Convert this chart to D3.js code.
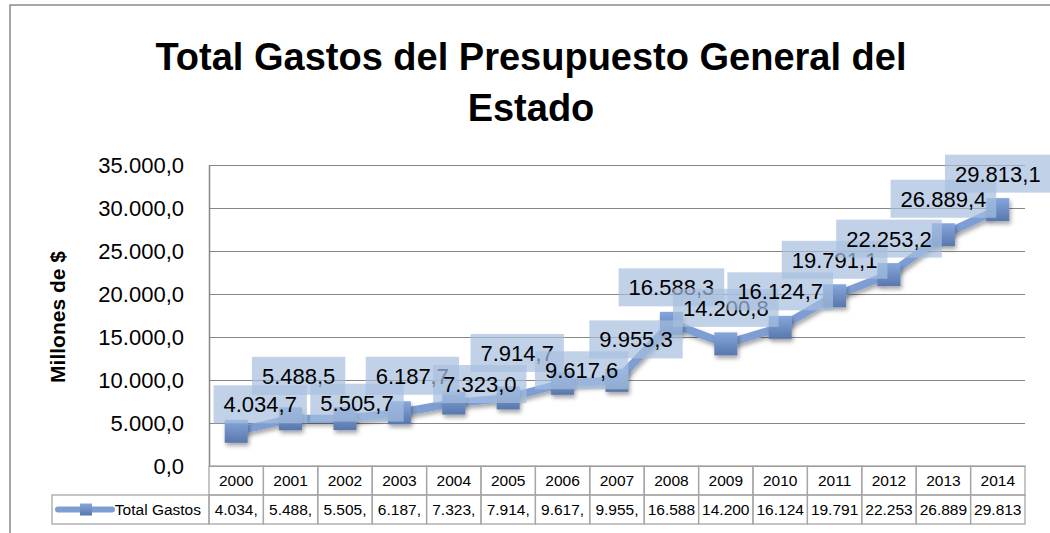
<!DOCTYPE html>
<html>
<head>
<meta charset="utf-8">
<script src="https://cdn.jsdelivr.net/npm/d3@7"></script>
<style>
  html, body { margin: 0; padding: 0; background: #fff; }
  svg { display: block; font-family: "Liberation Sans", Arial, sans-serif; }
</style>
</head>
<body>
<svg id="chart" width="1050" height="533"></svg>
<script>
// chart values
var years = ["2000", "2001", "2002", "2003", "2004", "2005", "2006", "2007",
             "2008", "2009", "2010", "2011", "2012", "2013", "2014"];
var totalGastos = [4034.7, 5488.5, 5505.7, 6187.7, 7323.0, 7914.7, 9617.6, 9955.3,
                   16588.3, 14200.8, 16124.7, 19791.1, 22253.2, 26889.4, 29813.1];
var yTicks = [0, 5000, 10000, 15000, 20000, 25000, 30000, 35000];
var seriesName = "Total Gastos";

// where Excel put each data label, relative to its point (dx, dy of text centre)
var labelNudge = [[24, -27], [8, -43], [12, -16], [13, -37], [26, -19], [9, -45], [19, -13], [19, -41],
                  [0, -36], [0, -36], [0, -36], [0, -36], [0, -36], [0, -36], [0, -36]];

var es = d3.formatLocale({ decimal: ",", thousands: ".", grouping: [3], currency: ["$", ""] });
var fmt = es.format(",.1f");

var svg = d3.select("#chart");
var plot = { left: 209, right: 1025, top: 165, bottom: 466 };
var rowH = 29;
var lineColor = "#7e9ed3";

var x = d3.scaleBand().domain(years).range([plot.left, plot.right]).padding(0);
var y = d3.scaleLinear().domain([0, 35000]).range([plot.bottom, plot.top]);

// defs: marker gradient + shadow
var defs = svg.append("defs");
var grad = defs.append("linearGradient").attr("id", "mk").attr("x1", 0).attr("y1", 0).attr("x2", 0).attr("y2", 1);
grad.append("stop").attr("offset", "0%").attr("stop-color", "#86a7dc");
grad.append("stop").attr("offset", "100%").attr("stop-color", "#5877ad");
var sh = defs.append("filter").attr("id", "shadow").attr("x", "-50%").attr("y", "-50%").attr("width", "200%").attr("height", "200%");
sh.append("feDropShadow").attr("dx", 1.5).attr("dy", 3).attr("stdDeviation", 2)
  .attr("flood-color", "#000").attr("flood-opacity", 0.35);

// outer chart border
svg.append("rect")
  .attr("x", 10).attr("y", 5).attr("width", 1100).attr("height", 600)
  .attr("fill", "none").attr("stroke", "#8a8a8a").attr("stroke-width", 1.5);

// title
var title = svg.append("text")
  .attr("text-anchor", "middle")
  .attr("font-weight", "bold")
  .attr("font-size", 38)
  .attr("fill", "#000");
title.append("tspan").attr("x", 531).attr("y", 70).text("Total Gastos del Presupuesto General del");
title.append("tspan").attr("x", 531).attr("y", 121).text("Estado");

// y axis title
svg.append("text")
  .attr("transform", "translate(65,317) rotate(-90)")
  .attr("text-anchor", "middle")
  .attr("font-weight", "bold")
  .attr("font-size", 21)
  .text("Millones de $");

// gridlines
svg.append("g")
  .attr("transform", "translate(" + plot.left + ",0)")
  .call(d3.axisLeft(y).tickValues(yTicks).tickSize(-(plot.right - plot.left)).tickFormat(""))
  .call(function (g) {
    g.select(".domain").remove();
    g.selectAll(".tick line").attr("stroke", "#868686").attr("stroke-width", 1.2);
  });

// y axis labels
svg.append("g")
  .attr("transform", "translate(" + plot.left + ",0)")
  .call(d3.axisLeft(y).tickValues(yTicks).tickSize(0).tickPadding(25).tickFormat(fmt))
  .call(function (g) {
    g.select(".domain").attr("stroke", "#868686").attr("stroke-width", 1.5);
    g.selectAll(".tick text").attr("font-size", 22).attr("fill", "#000")
      .attr("font-family", "'Liberation Sans', Arial, sans-serif");
  });

// data table under the axis
var table = svg.append("g").attr("class", "datatable");
var border = "#a6a6a6";
table.selectAll("rect.hdr")
  .data(years)
  .enter().append("rect")
  .attr("class", "hdr")
  .attr("x", function (d) { return x(d); })
  .attr("y", plot.bottom)
  .attr("width", x.bandwidth())
  .attr("height", rowH)
  .attr("fill", "none").attr("stroke", border).attr("stroke-width", 1.3);
table.selectAll("text.hdr")
  .data(years)
  .enter().append("text")
  .attr("class", "hdr")
  .attr("x", function (d) { return x(d) + x.bandwidth() / 2; })
  .attr("y", plot.bottom + rowH / 2 + 5.5)
  .attr("text-anchor", "middle")
  .attr("font-size", 15.5)
  .text(function (d) { return d; });

table.selectAll("rect.val")
  .data(years)
  .enter().append("rect")
  .attr("class", "val")
  .attr("x", function (d) { return x(d); })
  .attr("y", plot.bottom + rowH)
  .attr("width", x.bandwidth())
  .attr("height", rowH)
  .attr("fill", "none").attr("stroke", border).attr("stroke-width", 1.3);
table.selectAll("text.val")
  .data(totalGastos)
  .enter().append("text")
  .attr("class", "val")
  .attr("x", function (d, i) { return x(years[i]) + x.bandwidth() / 2; })
  .attr("y", plot.bottom + rowH * 1.5 + 5.5)
  .attr("text-anchor", "middle")
  .attr("font-size", 15.5)
  .text(function (d) { return fmt(d).slice(0, 6); }); // cell too narrow, Excel clips it

// legend cell
table.append("rect")
  .attr("x", 52).attr("y", plot.bottom + rowH)
  .attr("width", plot.left - 52).attr("height", rowH)
  .attr("fill", "none").attr("stroke", border).attr("stroke-width", 1.3);
table.append("line")
  .attr("x1", 58).attr("x2", 112)
  .attr("y1", plot.bottom + rowH * 1.5).attr("y2", plot.bottom + rowH * 1.5)
  .attr("stroke", lineColor).attr("stroke-width", 6).attr("stroke-linecap", "round");
table.append("rect")
  .attr("x", 80).attr("y", plot.bottom + rowH * 1.5 - 6)
  .attr("width", 12).attr("height", 12)
  .attr("fill", "url(#mk)");
table.append("text")
  .attr("x", 201).attr("y", plot.bottom + rowH * 1.5 + 5.5)
  .attr("text-anchor", "end")
  .attr("font-size", 15.5)
  .text(seriesName);

// series line
var px = function (d, i) { return x(years[i]) + x.bandwidth() / 2; };
var line = d3.line().x(px).y(function (d) { return y(d); });
svg.append("path")
  .datum(totalGastos)
  .attr("d", line)
  .attr("fill", "none")
  .attr("stroke", lineColor)
  .attr("stroke-width", 8)
  .attr("stroke-linejoin", "round")
  .attr("filter", "url(#shadow)");

// square markers
var ms = 23;
svg.append("g").selectAll("rect")
  .data(totalGastos)
  .enter().append("rect")
  .attr("x", function (d, i) { return px(d, i) - ms / 2; })
  .attr("y", function (d) { return y(d) - ms / 2; })
  .attr("width", ms).attr("height", ms)
  .attr("fill", "url(#mk)")
  .attr("filter", "url(#shadow)");

// data labels with translucent boxes
var labels = svg.append("g").selectAll("g")
  .data(totalGastos)
  .enter().append("g")
  .attr("transform", function (d, i) {
    return "translate(" + (px(d, i) + labelNudge[i][0]) + "," + (y(d) + labelNudge[i][1]) + ")";
  });
labels.each(function (d) {
  var g = d3.select(this);
  var box = g.append("rect");
  var t = g.append("text")
    .attr("text-anchor", "middle")
    .attr("y", 8)
    .attr("font-size", 22)
    .attr("fill", "#000")
    .text(fmt(d));
  var w = t.node().getComputedTextLength() + 20;
  box.attr("x", -w / 2).attr("y", -19).attr("width", w).attr("height", 38)
    .attr("fill", "#a7bfde").attr("fill-opacity", 0.7);
});
</script>
</body>
</html>
